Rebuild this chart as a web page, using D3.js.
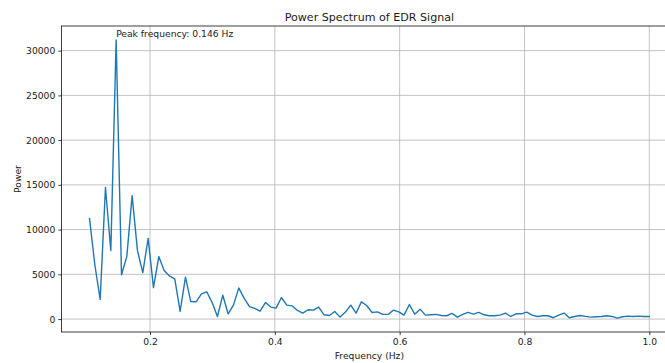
<!DOCTYPE html>
<html>
<head>
<meta charset="utf-8">
<script src="https://cdn.jsdelivr.net/npm/d3@7"></script>
<style>
  html, body { margin: 0; padding: 0; background: #ffffff; }
  svg { display: block; font-family: "DejaVu Sans", sans-serif; }
</style>
</head>
<body>
<div id="chart"></div>
<script>
// Frequency bins (Hz) of the EDR power spectrum between 0.1 and 1.0 Hz
const frequencies = [
  0.1030, 0.1115, 0.1201, 0.1286, 0.1372, 0.1457, 0.1543, 0.1628, 0.1713, 0.1799,
  0.1884, 0.1970, 0.2055, 0.2141, 0.2226, 0.2311, 0.2397, 0.2482, 0.2568, 0.2653,
  0.2739, 0.2824, 0.2909, 0.2995, 0.3080, 0.3166, 0.3251, 0.3337, 0.3422, 0.3507,
  0.3593, 0.3678, 0.3764, 0.3849, 0.3935, 0.4020, 0.4105, 0.4191, 0.4276, 0.4362,
  0.4447, 0.4533, 0.4618, 0.4703, 0.4789, 0.4874, 0.4960, 0.5045, 0.5131, 0.5216,
  0.5302, 0.5387, 0.5472, 0.5558, 0.5643, 0.5729, 0.5814, 0.5900, 0.5985, 0.6070,
  0.6156, 0.6241, 0.6327, 0.6412, 0.6498, 0.6583, 0.6668, 0.6754, 0.6839, 0.6925,
  0.7010, 0.7096, 0.7181, 0.7266, 0.7352, 0.7437, 0.7523, 0.7608, 0.7694, 0.7779,
  0.7864, 0.7950, 0.8035, 0.8121, 0.8206, 0.8292, 0.8377, 0.8462, 0.8548, 0.8633,
  0.8719, 0.8804, 0.8890, 0.8975, 0.9060, 0.9146, 0.9231, 0.9317, 0.9402, 0.9488,
  0.9573, 0.9658, 0.9744, 0.9829, 0.9915, 1.0000
];

// Spectral power at each frequency bin
const power = [
  11250, 6100, 2200, 14700, 7650, 31200, 4950, 6980, 13800, 7650,
  5190, 9020, 3520, 6980, 5420, 4820, 4460, 850, 4680, 1960,
  1930, 2820, 3040, 1850, 290, 2670, 590, 1560, 3490, 2340,
  1400, 1200, 890, 1850, 1340, 1225, 2410, 1560, 1480, 960,
  670, 1040, 1000, 1340, 480, 400, 850, 220, 780, 1560,
  670, 1930, 1520, 740, 810, 520, 520, 1000, 810, 440,
  1630, 550, 1110, 440, 480, 520, 400, 370, 630, 220,
  520, 740, 550, 740, 480, 370, 370, 440, 670, 290,
  590, 590, 780, 440, 290, 370, 370, 150, 440, 670,
  150, 290, 400, 300, 220, 256, 294, 368, 294, 110,
  256, 330, 294, 330, 294, 294
];

const xTicks = [0.2, 0.4, 0.6, 0.8, 1.0];
const xTickLabels = ["0.2", "0.4", "0.6", "0.8", "1.0"];
const yTicks = [0, 5000, 10000, 15000, 20000, 25000, 30000];
const yTickLabels = ["0", "5000", "10000", "15000", "20000", "25000", "30000"];

const titleText = "Power Spectrum of EDR Signal";
const xLabelText = "Frequency (Hz)";
const yLabelText = "Power";

const W = 665, H = 363;
const plot = { left: 61.5, top: 26, right: 677.3, bottom: 332 };

const data = frequencies.map((f, i) => ({ f, p: power[i] }));

// Axis limits padded by 5% of the data span on each side
const [fMin, fMax] = d3.extent(frequencies);
const [pMin, pMax] = d3.extent(power);
const fPad = (fMax - fMin) * 0.05, pPad = (pMax - pMin) * 0.05;

const x = d3.scaleLinear().domain([fMin - fPad, fMax + fPad]).range([plot.left, plot.right]);
const y = d3.scaleLinear().domain([pMin - pPad, pMax + pPad]).range([plot.bottom, plot.top]);

const svg = d3.select("#chart").append("svg")
  .attr("width", W).attr("height", H);

svg.append("rect").attr("width", W).attr("height", H).attr("fill", "#ffffff");

const fontSize = 9.2;
const textColor = "#1a1a1a";

// Grid lines
const grid = svg.append("g").attr("class", "grid");
grid.selectAll("line.gx").data(xTicks).join("line")
  .attr("class", "gx")
  .attr("x1", d => x(d)).attr("x2", d => x(d))
  .attr("y1", plot.top).attr("y2", plot.bottom)
  .attr("stroke", "#b0b0b0").attr("stroke-width", 0.75);
grid.selectAll("line.gy").data(yTicks).join("line")
  .attr("class", "gy")
  .attr("x1", plot.left).attr("x2", plot.right)
  .attr("y1", d => y(d)).attr("y2", d => y(d))
  .attr("stroke", "#b0b0b0").attr("stroke-width", 0.75);

// Spectrum line
const line = d3.line().x(d => x(d.f)).y(d => y(d.p));
svg.append("path")
  .datum(data)
  .attr("d", line)
  .attr("fill", "none")
  .attr("stroke", "#1f77b4")
  .attr("stroke-width", 1.4)
  .attr("stroke-linejoin", "round")
  .attr("stroke-linecap", "square");

// Axes
const xAxis = d3.axisBottom(x)
  .tickValues(xTicks)
  .tickFormat((d, i) => xTickLabels[i])
  .tickSize(3.2).tickPadding(3);
const yAxis = d3.axisLeft(y)
  .tickValues(yTicks)
  .tickFormat((d, i) => yTickLabels[i])
  .tickSize(3.2).tickPadding(3);

const gx = svg.append("g").attr("transform", `translate(0,${plot.bottom})`).call(xAxis);
const gy = svg.append("g").attr("transform", `translate(${plot.left},0)`).call(yAxis);
[gx, gy].forEach(g => {
  g.select(".domain").remove();
  g.selectAll(".tick line").attr("stroke", "#000").attr("stroke-width", 0.75);
  g.selectAll(".tick text")
    .attr("fill", textColor)
    .style("font-size", fontSize + "px")
    .style("font-family", "'DejaVu Sans', sans-serif");
});

// Frame (spines)
svg.append("rect")
  .attr("x", plot.left).attr("y", plot.top)
  .attr("width", plot.right - plot.left).attr("height", plot.bottom - plot.top)
  .attr("fill", "none").attr("stroke", "#000").attr("stroke-width", 0.75);

// Title and axis labels
svg.append("text")
  .attr("x", (plot.left + plot.right) / 2).attr("y", 20.5)
  .attr("text-anchor", "middle")
  .attr("fill", textColor)
  .style("font-size", "11.1px")
  .text(titleText);

svg.append("text")
  .attr("x", (plot.left + plot.right) / 2).attr("y", 358.5)
  .attr("text-anchor", "middle")
  .attr("fill", textColor)
  .style("font-size", fontSize + "px")
  .text(xLabelText);

svg.append("text")
  .attr("transform", `translate(20.5,${(plot.top + plot.bottom) / 2}) rotate(-90)`)
  .attr("text-anchor", "middle")
  .attr("fill", textColor)
  .style("font-size", fontSize + "px")
  .text(yLabelText);

// Peak annotation
const peak = data.reduce((a, b) => (b.p > a.p ? b : a));
svg.append("text")
  .attr("x", x(peak.f)).attr("y", y(peak.p) - 3)
  .attr("text-anchor", "start")
  .attr("fill", textColor)
  .style("font-size", fontSize + "px")
  .text(`Peak frequency: ${peak.f.toFixed(3)} Hz`);
</script>
</body>
</html>
